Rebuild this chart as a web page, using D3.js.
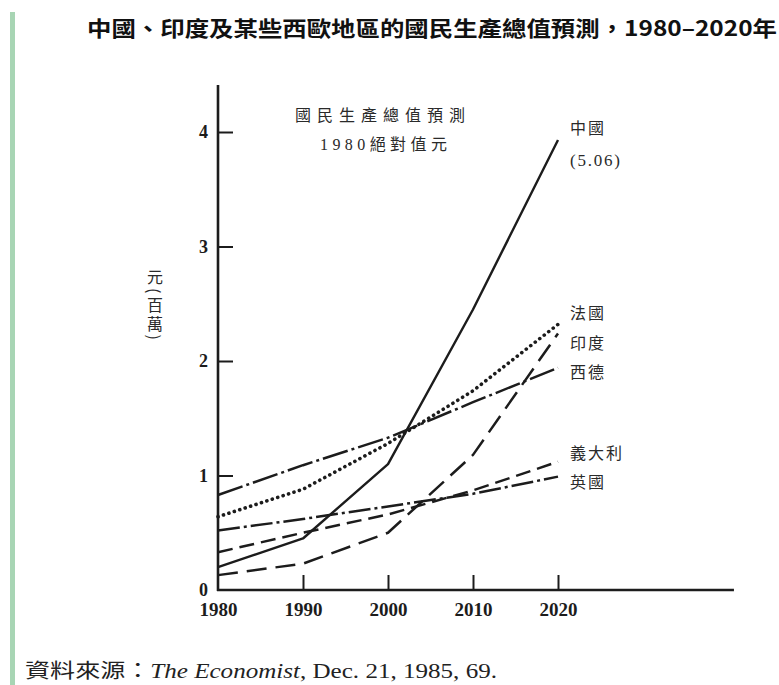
<!DOCTYPE html>
<html><head><meta charset="utf-8">
<script src="https://cdn.jsdelivr.net/npm/d3@7"></script>
<style>
html,body{margin:0;padding:0;background:#fff;}
svg{display:block;}
</style></head>
<body>
<svg id="chart" width="779" height="685"></svg>
<script>
// ---- data ----
const years = [1980, 1990, 2000, 2010, 2020];
const china   = [0.20, 0.45, 1.10, 2.45, 3.93];
const france  = [0.64, 0.88, 1.28, 1.74, 2.32];
const wgermany= [0.83, 1.09, 1.33, 1.64, 1.94];
const india   = [0.13, 0.23, 0.50, 1.18, 2.24];
const italy   = [0.33, 0.50, 0.66, 0.87, 1.12];
const britain = [0.52, 0.62, 0.73, 0.84, 0.99];
const yTicks = [0, 1, 2, 3, 4];
const xTicks = [1980, 1990, 2000, 2010, 2020];
const seriesNames = ["中國", "法國", "印度", "西德", "義大利", "英國"];
const titleText = "中國、印度及某些西歐地區的國民生產總值預測，1980–2020年";
const noteLines = ["國民生產總值預測", "1980絕對值元"];
const yLabel = "元(百萬)";
const chinaEnd = "(5.06)";

const svg = d3.select("#chart");
const ink = "#1c1c1c";
const cjk = "'Noto Sans CJK TC','Noto Sans CJK SC',sans-serif";
const serif = "'Liberation Serif','Noto Sans CJK TC',serif";

// left green strip
svg.append("rect").attr("x", 10).attr("y", 12).attr("width", 5).attr("height", 673).attr("fill", "#a8d5b4");

// scales
const x = d3.scaleLinear().domain([1980, 2020]).range([218, 558]);
const y = d3.scaleLinear().domain([0, 4]).range([590, 132]);
const xEnd = 2040.7, yTop = 4.41;

// axes
const gy = svg.append("g").attr("transform", `translate(${x(1980)},0)`)
  .call(d3.axisLeft(y).tickValues(yTicks).tickSizeInner(-15).tickSizeOuter(0).tickPadding(10).tickFormat(d3.format("d")));
gy.select(".domain").remove();
gy.selectAll(".tick line").attr("stroke", ink).attr("stroke-width", 2);
gy.selectAll(".tick text").attr("font-family", serif).attr("font-size", 18).attr("font-weight", "bold").attr("fill", ink);
gy.selectAll(".tick").filter(d => d === 0).select("line").remove();

const gx = svg.append("g").attr("transform", `translate(0,${y(0)})`)
  .call(d3.axisBottom(x).tickValues(xTicks).tickSizeInner(-15).tickSizeOuter(0).tickPadding(13).tickFormat(d3.format("d")));
gx.select(".domain").remove();
gx.selectAll(".tick line").attr("stroke", ink).attr("stroke-width", 2);
gx.selectAll(".tick text").attr("font-family", serif).attr("font-size", 19).attr("font-weight", "bold").attr("fill", ink);
gx.selectAll(".tick").filter(d => d === 1980).select("line").remove();

svg.append("line").attr("x1", x(1980)).attr("x2", x(1980)).attr("y1", y(0) + 1).attr("y2", y(yTop))
  .attr("stroke", ink).attr("stroke-width", 2.6);
svg.append("line").attr("x1", x(1980) - 1).attr("x2", x(xEnd)).attr("y1", y(0)).attr("y2", y(0))
  .attr("stroke", ink).attr("stroke-width", 2.6);

// lines
const line = d3.line().x((d, i) => x(years[i])).y(d => y(d));
const series = [
  {v: china, dash: null, w: 2.4, cap: "butt"},
  {v: france, dash: "0.1,5.6", w: 3.6, cap: "round"},
  {v: india, dash: "20,9", w: 2.5, cap: "butt"},
  {v: wgermany, dash: "26,4,3,4", w: 2.5, cap: "butt"},
  {v: italy, dash: "15,7", w: 2.5, cap: "butt"},
  {v: britain, dash: "22,4,3,4", w: 2.5, cap: "butt"}
];
svg.append("g").selectAll("path").data(series).join("path")
  .attr("d", d => line(d.v))
  .attr("fill", "none").attr("stroke", ink)
  .attr("stroke-width", d => d.w)
  .attr("stroke-linecap", d => d.cap)
  .attr("stroke-linejoin", "round")
  .attr("stroke-dasharray", d => d.dash);

// series labels
const labelY = [128, 313, 343, 372, 453, 482];
svg.append("g").selectAll("text").data(seriesNames).join("text")
  .attr("x", 570).attr("y", (d, i) => labelY[i]).attr("dy", "0.35em")
  .attr("font-family", cjk).attr("font-size", 16).attr("fill", "#2a2a2a")
  .attr("letter-spacing", 2)
  .text(d => d);
svg.append("text").attr("x", 570).attr("y", 160).attr("dy", "0.35em")
  .attr("font-family", serif).attr("font-size", 17).attr("fill", "#2a2a2a")
  .attr("textLength", 50).attr("lengthAdjust", "spacing")
  .text(chinaEnd);

// note
svg.append("text").attr("x", 295).attr("y", 115).attr("dy", "0.35em")
  .attr("font-family", cjk).attr("font-size", 16).attr("fill", "#2a2a2a")
  .attr("textLength", 170).attr("lengthAdjust", "spacing").text(noteLines[0]);
svg.append("text").attr("x", 320).attr("y", 144).attr("dy", "0.35em")
  .attr("font-family", serif).attr("font-size", 16).attr("fill", "#2a2a2a")
  .attr("textLength", 127).attr("lengthAdjust", "spacing").text(noteLines[1]);

// y axis title: vertical writing
svg.append("text").attr("x", 155).attr("y", 306)
  .attr("text-anchor", "middle")
  .style("writing-mode", "vertical-rl")
  .attr("letter-spacing", 3)
  .attr("font-family", cjk).attr("font-size", 16).attr("fill", "#2a2a2a")
  .text(yLabel);

// title
svg.append("text").attr("x", 87).attr("y", 36)
  .attr("font-family", cjk).attr("font-size", 21).attr("font-weight", "bold").attr("fill", "#111")
  .attr("textLength", 690).attr("lengthAdjust", "spacingAndGlyphs")
  .text(titleText);

// source
const src = svg.append("text").attr("x", 25).attr("y", 678)
  .attr("font-family", serif).attr("font-size", 20).attr("fill", "#222")
  .attr("textLength", 472).attr("lengthAdjust", "spacingAndGlyphs");
src.append("tspan").attr("font-family", cjk).text("資料來源：");
src.append("tspan").attr("font-style", "italic").text("The Economist");
src.append("tspan").text(", Dec. 21, 1985, 69.");
</script>
</body></html>
